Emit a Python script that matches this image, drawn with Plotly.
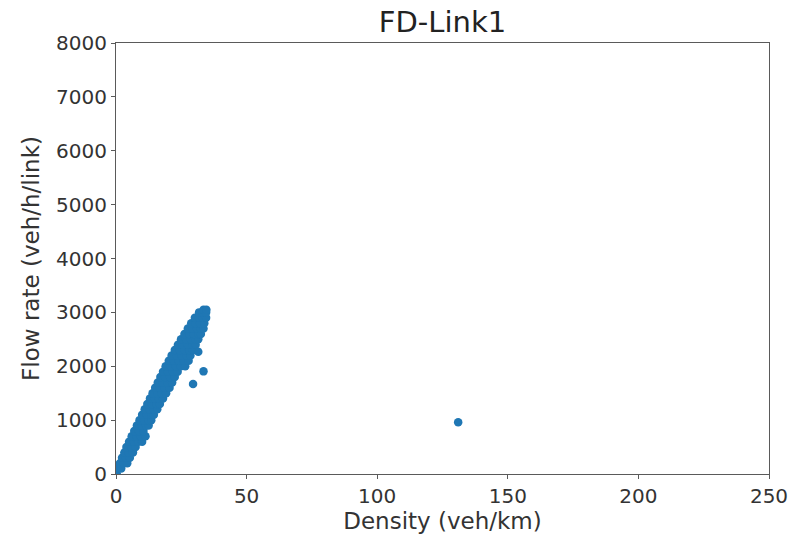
import plotly.graph_objects as go

# Flow-density observations for Link 1, grouped by flow level (veh/h/link);
# each level lists the observed densities (veh/km) at that flow.
flow_levels = [0, 100, 200, 300, 400, 500, 600, 700, 800, 900, 1000, 1100,
               1200, 1300, 1400, 1500, 1600, 1700, 1800, 1900, 2000, 2100,
               2200, 2300, 2400, 2500, 2600, 2700, 2800, 2900, 3000, 3050]
densities_at_level = [
    [0.3],
    [0.8, 2.0],
    [1.5, 3.0, 4.3],
    [2.3, 3.8, 5.3],
    [3.2, 4.8, 6.5],
    [4.0, 5.8, 7.5],
    [5.0, 6.8, 8.5, 10.0],
    [6.0, 7.8, 9.5, 11.3],
    [7.0, 8.8, 10.5],
    [8.0, 9.8, 11.5, 12.5],
    [9.0, 10.8, 12.5, 13.5],
    [10.0, 11.8, 13.5, 14.5],
    [11.0, 12.8, 14.5, 15.8],
    [12.0, 13.8, 15.5, 16.8],
    [13.0, 14.8, 16.5, 18.0],
    [14.0, 15.8, 17.5, 19.2],
    [15.0, 16.8, 18.6, 20.5],
    [16.0, 17.8, 19.7, 21.5],
    [17.0, 18.8, 20.7, 22.5],
    [18.0, 19.9, 21.8, 23.6],
    [19.0, 21.0, 23.0, 24.8, 26.5],
    [20.2, 22.1, 24.0, 26.0, 27.8],
    [21.3, 23.2, 25.1, 27.0, 28.5],
    [22.5, 24.4, 26.3, 28.0, 29.5],
    [23.7, 25.6, 27.5, 29.3, 30.5],
    [24.9, 26.8, 28.7, 30.5, 31.5],
    [26.2, 28.0, 29.8, 31.5, 32.5],
    [27.5, 29.3, 31.0, 32.5, 33.5],
    [28.8, 30.5, 32.2, 33.8],
    [30.2, 31.8, 33.2, 34.5],
    [31.8, 33.2, 34.5],
    [33.5, 34.6],
]

# Scattered observations away from the main branch
outlier_density = [31.5, 33.5, 29.5, 131.0]
outlier_flow = [2270, 1905, 1670, 960]

x_ticks = [0, 50, 100, 150, 200, 250]
y_ticks = [0, 1000, 2000, 3000, 4000, 5000, 6000, 7000, 8000]

density = []
flow = []
for q, ks in zip(flow_levels, densities_at_level):
    for k in ks:
        density.append(k)
        flow.append(q)
density += outlier_density
flow += outlier_flow

blue = "#1f77b4"
axis_color = "#5a5a5a"
text_color = "#333333"
font_family = "DejaVu Sans, sans-serif"

fig = go.Figure(
    go.Scatter(
        x=density,
        y=flow,
        mode="markers",
        marker=dict(size=8.5, color=blue, line=dict(width=0)),
        showlegend=False,
        hoverinfo="x+y",
    )
)

axis_common = dict(
    automargin=False,
    showgrid=False,
    zeroline=False,
    showline=True,
    linecolor=axis_color,
    linewidth=1,
    mirror=True,
    ticks="outside",
    ticklen=4,
    tickwidth=1,
    tickcolor=axis_color,
    tickfont=dict(family=font_family, size=20, color=text_color),
)

fig.update_xaxes(
    range=[0, 250],
    tickvals=x_ticks,
    title=dict(text="Density (veh/km)",
               font=dict(family=font_family, size=23, color=text_color),
               standoff=2),
    **axis_common,
)
fig.update_yaxes(
    range=[0, 8000],
    tickvals=y_ticks,
    title=dict(text="Flow rate (veh/h/link)",
               font=dict(family=font_family, size=23, color=text_color),
               standoff=10),
    **axis_common,
)

fig.update_layout(
    width=792,
    height=538,
    margin=dict(l=116, r=23, t=43, b=64, autoexpand=False),
    paper_bgcolor="white",
    plot_bgcolor="white",
    title=dict(
        text="FD-Link1",
        x=(116 + 769) / 2 / 792,
        xanchor="center",
        y=1 - 22 / 538,
        yanchor="middle",
        font=dict(family=font_family, size=29, color="#222222"),
    ),
)

fig.write_html("out.html")
